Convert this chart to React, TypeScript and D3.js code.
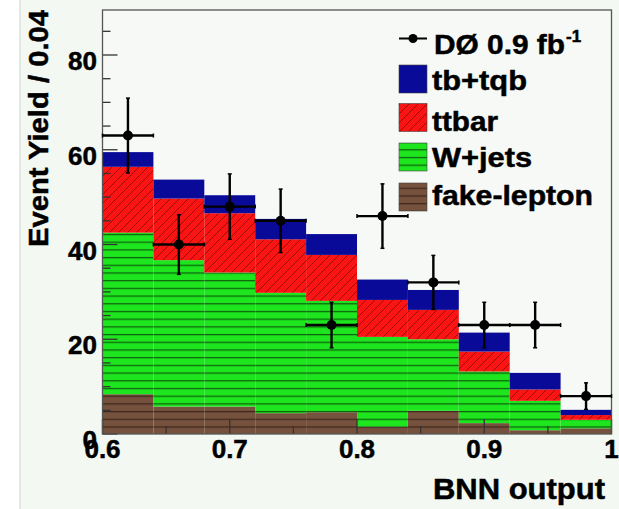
import React from 'react';
import * as d3 from 'd3';

// bin edges of the BNN output histogram (width 0.04)
const binLow = [0.6, 0.64, 0.68, 0.72, 0.76, 0.8, 0.84, 0.88, 0.92, 0.96];
const binWidth = 0.04;

// stacked backgrounds, bottom to top
const fakeLepton = [8.4, 5.8, 5.8, 4.4, 4.6, 1.5, 4.9, 2.3, 0.8, 1.2];
const wJets = [34.1, 30.9, 28.3, 25.4, 23.5, 19.0, 15.1, 10.9, 6.2, 1.8];
const ttbar = [13.9, 13.0, 12.5, 11.3, 9.7, 7.8, 6.2, 4.2, 2.4, 1.0];
const tbTqb = [3.1, 4.0, 3.8, 4.3, 4.4, 4.3, 4.2, 4.0, 3.5, 1.1];

// D0 data
const dataYield = [63, 40, 48, 45, 23, 46, 32, 23, 23, 8];
const dataErr = [7.9, 6.3, 6.9, 6.7, 4.8, 6.8, 5.7, 4.8, 4.8, 2.8];

const seriesKeys = ['fake', 'wjets', 'ttbar', 'tb'];
const legendLabels = ['tb+tqb', 'ttbar', 'W+jets', 'fake-lepton'];
const legendKeys = ['tb', 'ttbar', 'wjets', 'fake'];

const W = 619;
const H = 509;
const plot = { left: 102.5, right: 611.5, top: 10, bottom: 434 };
const FONT = '"Liberation Sans", Arial, Helvetica, sans-serif';

const fills: Record<string, string> = {
  tb: '#0a0a98',
  ttbar: 'url(#hatchRed)',
  wjets: 'url(#lineGreen)',
  fake: 'url(#lineBrown)',
};

const App = () => {
  const x = d3.scaleLinear().domain([0.6, 1.0]).range([plot.left, plot.right]);
  const y = d3.scaleLinear().domain([0, 89.5]).range([plot.bottom, plot.top]);

  const rows = binLow.map((lo, i) => ({
    lo,
    fake: fakeLepton[i],
    wjets: wJets[i],
    ttbar: ttbar[i],
    tb: tbTqb[i],
  }));
  const stacked = d3.stack<any>().keys(seriesKeys)(rows);

  const yMajor = y.ticks(5).filter((t) => t % 20 === 0);
  const yMinor = d3.range(0, 89.5, 5).filter((t) => t % 20 !== 0);
  const xMajor = [0.6, 0.7, 0.8, 0.9, 1.0];
  const xMinor = [0.65, 0.75, 0.85, 0.95];

  const legendX = 399;
  const legendBoxTop = [65, 103.5, 143, 183];
  const legendBase = [90, 131, 167, 205];
  const legendLen = [95, 66, 100, 161];

  // heavier text, like the bold Helvetica in the plot
  const heavy = { stroke: '#000', strokeWidth: 0.5 };

  return (
    <svg width={W} height={H} style={{ position: 'absolute', left: 0, top: 0 }} fontFamily={FONT}>
      <defs>
        <pattern id="hatchRed" patternUnits="userSpaceOnUse" width="9" height="9">
          <rect width="9" height="9" fill="#fb1414" />
          <path d="M-1,10 L10,-1 M-3,3 L3,-3 M6,12 L12,6" stroke="#a00a0a" strokeWidth="1" />
        </pattern>
        <pattern id="lineGreen" patternUnits="userSpaceOnUse" width="8" height="7.7">
          <rect width="8" height="7.7" fill="#1ee61e" />
          <line x1="0" x2="8" y1="3.5" y2="3.5" stroke="#0d640d" strokeWidth="1.3" />
        </pattern>
        <pattern id="lineBrown" patternUnits="userSpaceOnUse" width="8" height="7.7">
          <rect width="8" height="7.7" fill="#76523e" />
          <line x1="0" x2="8" y1="3.5" y2="3.5" stroke="#3e2819" strokeWidth="1.3" />
        </pattern>
      </defs>

      <rect x={0} y={0} width={W} height={H} fill="#ffffff" />
      <rect x={20} y={0} width={W - 20} height={H} fill="#f3f8f3" />
      <line x1={20} x2={20} y1={0} y2={H} stroke="#d6dcd6" strokeWidth={1.2} />
      <rect x={plot.left} y={plot.top} width={plot.right - plot.left} height={plot.bottom - plot.top} fill="#f6f9f6" />

      {/* stacked histograms */}
      {stacked.map((s) => (
        <g key={s.key}>
          {s.map((d, i) => (
            <rect
              key={i}
              x={x(binLow[i])}
              y={y(d[1])}
              width={x(binLow[i] + binWidth) - x(binLow[i])}
              height={y(d[0]) - y(d[1])}
              fill={fills[s.key]}
            />
          ))}
        </g>
      ))}

      {/* ticks */}
      <g stroke="#333" strokeWidth={1.3}>
        {yMajor.map((t) => (
          <line key={'ym' + t} x1={plot.left} x2={plot.left + 15} y1={y(t)} y2={y(t)} />
        ))}
        {yMinor.map((t) => (
          <line key={'yn' + t} x1={plot.left} x2={plot.left + 8} y1={y(t)} y2={y(t)} />
        ))}
        {xMajor.map((t) => (
          <line key={'xm' + t} x1={x(t)} x2={x(t)} y1={plot.bottom} y2={plot.bottom - 15} />
        ))}
        {xMinor.map((t) => (
          <line key={'xn' + t} x1={x(t)} x2={x(t)} y1={plot.bottom} y2={plot.bottom - 8} />
        ))}
      </g>

      {/* frame */}
      <rect
        x={plot.left}
        y={plot.top}
        width={plot.right - plot.left}
        height={plot.bottom - plot.top}
        fill="none"
        stroke="#555"
        strokeWidth={1.3}
      />

      {/* data points */}
      <g stroke="#000" strokeWidth={2.4}>
        {dataYield.map((v, i) => {
          const cx = x(binLow[i] + binWidth / 2);
          const x0 = x(binLow[i]);
          const x1 = x(binLow[i] + binWidth);
          const yt = y(v + dataErr[i]);
          const yb = y(v - dataErr[i]);
          return (
            <g key={i}>
              <line x1={x0} x2={x1} y1={y(v)} y2={y(v)} />
              <line x1={cx} x2={cx} y1={yt} y2={yb} />
              <line x1={x0} x2={x0} y1={y(v) - 2} y2={y(v) + 2} strokeWidth={1.5} />
              <line x1={x1} x2={x1} y1={y(v) - 2} y2={y(v) + 2} strokeWidth={1.5} />
              <line x1={cx - 2} x2={cx + 2} y1={yt} y2={yt} strokeWidth={1.5} />
              <line x1={cx - 2} x2={cx + 2} y1={yb} y2={yb} strokeWidth={1.5} />
              <circle cx={cx} cy={y(v)} r={5} fill="#000" stroke="none" />
            </g>
          );
        })}
      </g>

      {/* tick labels */}
      <g fontWeight="bold" fontSize={26} fill="#000" {...heavy}>
        {yMajor.map((t) => (
          <text key={'yl' + t} x={97} y={y(t) + 15} textAnchor="end">
            {t}
          </text>
        ))}
        {xMajor.map((t) => (
          <text key={'xl' + t} x={x(t)} y={458} textAnchor="middle">
            {t === 1 ? '1' : t.toFixed(1)}
          </text>
        ))}
      </g>

      {/* axis titles */}
      <text
        transform={`translate(48,10) rotate(-90)`}
        textAnchor="end"
        fontWeight="bold"
        fontSize={28}
        fill="#000"
        textLength={237}
        lengthAdjust="spacingAndGlyphs"
        {...heavy}
      >
        Event Yield / 0.04
      </text>
      <text
        x={433}
        y={499}
        fontWeight="bold"
        fontSize={29}
        fill="#000"
        textLength={172}
        lengthAdjust="spacingAndGlyphs"
        {...heavy}
      >
        BNN output
      </text>

      {/* legend */}
      <g>
        <line x1={legendX} x2={legendX + 28} y1={38.5} y2={38.5} stroke="#000" strokeWidth={2} />
        <circle cx={legendX + 14} cy={38.5} r={4.5} fill="#000" />
        <text x={434} y={53.5} fontWeight="bold" fontSize={28} fill="#000" {...heavy}>
          <tspan textLength={131} lengthAdjust="spacingAndGlyphs">DØ 0.9 fb</tspan>
          <tspan fontSize={17} dy={-12} dx={1}>-1</tspan>
        </text>
        {legendKeys.map((k, i) => (
          <g key={k}>
            <rect x={legendX} y={legendBoxTop[i]} width={28} height={28} fill={fills[k]} stroke="#444" strokeWidth={0.6} />
            <text
              x={432}
              y={legendBase[i]}
              fontWeight="bold"
              fontSize={28}
              fill="#000"
              textLength={legendLen[i]}
              lengthAdjust="spacingAndGlyphs"
              {...heavy}
            >
              {legendLabels[i]}
            </text>
          </g>
        ))}
      </g>
    </svg>
  );
};

export default App;
